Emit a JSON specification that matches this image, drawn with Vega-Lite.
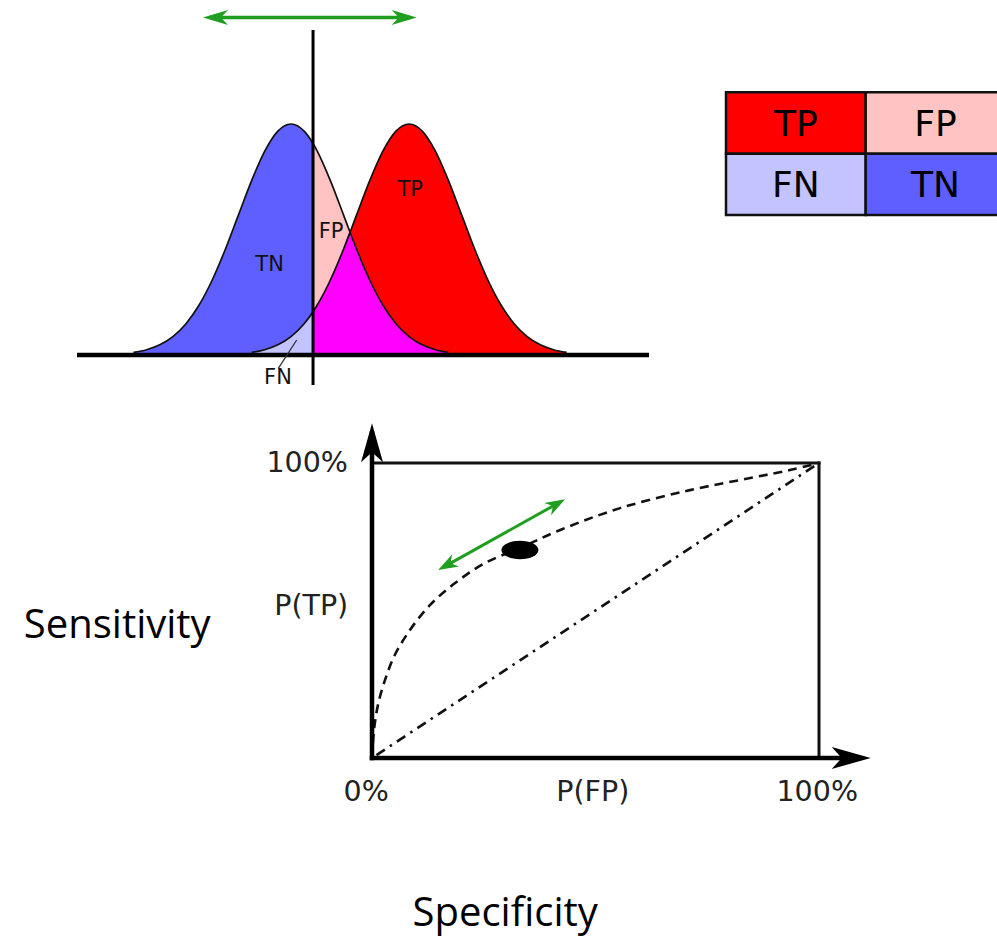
{
  "$schema": "https://vega.github.io/schema/vega-lite/v6.json",
  "width": 997,
  "height": 938,
  "autosize": {"type": "none"},
  "padding": 0,
  "background": "white",
  "config": {"view": {"stroke": null}, "axis": {"disable": true}, "legend": {"disable": true}},
  "datasets": {
    "curves": [
      {"x": -3, "neg": 0.0111, "pos": null, "both": null},
      {"x": -2.75, "neg": 0.0228, "pos": null, "both": null},
      {"x": -2.5, "neg": 0.0439, "pos": null, "both": null},
      {"x": -2.25, "neg": 0.0796, "pos": null, "both": null},
      {"x": -2, "neg": 0.1353, "pos": null, "both": null},
      {"x": -1.75, "neg": 0.2163, "pos": null, "both": null},
      {"x": -1.5, "neg": 0.3247, "pos": null, "both": null},
      {"x": -1.25, "neg": 0.4578, "pos": null, "both": null},
      {"x": -1, "neg": 0.6065, "pos": null, "both": null},
      {"x": -0.75, "neg": 0.7548, "pos": 0.0111, "both": null},
      {"x": -0.5, "neg": 0.8825, "pos": 0.0228, "both": null},
      {"x": -0.25, "neg": 0.9692, "pos": 0.0439, "both": null},
      {"x": 0, "neg": 1, "pos": 0.0796, "both": null},
      {"x": 0.25, "neg": 0.9692, "pos": 0.1353, "both": null},
      {"x": 0.42, "neg": 0.9156, "pos": 0.1874, "both": 0.1874},
      {"x": 0.5, "neg": 0.8825, "pos": 0.2163, "both": 0.2163},
      {"x": 0.75, "neg": 0.7548, "pos": 0.3247, "both": 0.3247},
      {"x": 1, "neg": 0.6065, "pos": 0.4578, "both": 0.4578},
      {"x": 1.125, "neg": 0.5311, "pos": 0.5311, "both": 0.5311},
      {"x": 1.25, "neg": 0.4578, "pos": 0.6065, "both": 0.4578},
      {"x": 1.5, "neg": 0.3247, "pos": 0.7548, "both": 0.3247},
      {"x": 1.75, "neg": 0.2163, "pos": 0.8825, "both": 0.2163},
      {"x": 2, "neg": 0.1353, "pos": 0.9692, "both": 0.1353},
      {"x": 2.25, "neg": 0.0796, "pos": 1, "both": 0.0796},
      {"x": 2.5, "neg": 0.0439, "pos": 0.9692, "both": 0.0439},
      {"x": 2.75, "neg": 0.0228, "pos": 0.8825, "both": 0.0228},
      {"x": 3, "neg": 0.0111, "pos": 0.7548, "both": 0.0111},
      {"x": 3.25, "neg": null, "pos": 0.6065, "both": null},
      {"x": 3.5, "neg": null, "pos": 0.4578, "both": null},
      {"x": 3.75, "neg": null, "pos": 0.3247, "both": null},
      {"x": 4, "neg": null, "pos": 0.2163, "both": null},
      {"x": 4.25, "neg": null, "pos": 0.1353, "both": null},
      {"x": 4.5, "neg": null, "pos": 0.0796, "both": null},
      {"x": 4.75, "neg": null, "pos": 0.0439, "both": null},
      {"x": 5, "neg": null, "pos": 0.0228, "both": null},
      {"x": 5.25, "neg": null, "pos": 0.0111, "both": null}
    ],
    "dist_segments": [
      {"seg": "baseline", "x1": -4.076, "y1": 0, "x2": 6.819, "y2": 0},
      {"seg": "threshold", "x1": 0.42, "y1": -0.13, "x2": 0.42, "y2": 1.407},
      {"seg": "leader", "x1": 0.109, "y1": 0.065, "x2": -0.242, "y2": -0.058},
      {"seg": "arrow", "x1": -1.55, "y1": 1.461, "x2": 2.27, "y2": 1.461}
    ],
    "dist_heads": [
      {"end": "left", "x": -1.676, "y": 1.461},
      {"end": "right", "x": 2.394, "y": 1.461}
    ],
    "dist_labels": [
      {"label": "TP", "x": 2.27, "y": 0.714},
      {"label": "FP", "x": 0.762, "y": 0.532},
      {"label": "TN", "x": -0.408, "y": 0.39},
      {"label": "FN", "x": -0.248, "y": -0.1}
    ],
    "table": [
      {"label": "TP", "c0": 0, "c1": 1, "r0": 0, "r1": 1, "cx": 0.5, "cy": 0.5},
      {"label": "FP", "c0": 1, "c1": 2, "r0": 0, "r1": 1, "cx": 1.5, "cy": 0.5},
      {"label": "FN", "c0": 0, "c1": 1, "r0": 1, "r1": 2, "cx": 0.5, "cy": 1.5},
      {"label": "TN", "c0": 1, "c1": 2, "r0": 1, "r1": 2, "cx": 1.5, "cy": 1.5}
    ],
    "roc_curve": [
      {"fpr": 0, "tpr": 0},
      {"fpr": 0.0045, "tpr": 0.095},
      {"fpr": 0.0134, "tpr": 0.18},
      {"fpr": 0.029, "tpr": 0.264},
      {"fpr": 0.051, "tpr": 0.349},
      {"fpr": 0.085, "tpr": 0.434},
      {"fpr": 0.13, "tpr": 0.519},
      {"fpr": 0.186, "tpr": 0.593},
      {"fpr": 0.253, "tpr": 0.661},
      {"fpr": 0.331, "tpr": 0.712},
      {"fpr": 0.421, "tpr": 0.773},
      {"fpr": 0.555, "tpr": 0.847},
      {"fpr": 0.711, "tpr": 0.908},
      {"fpr": 0.846, "tpr": 0.949},
      {"fpr": 0.935, "tpr": 0.976},
      {"fpr": 1, "tpr": 1}
    ],
    "roc_segments": [
      {"seg": "top", "fpr": 0, "tpr": 1, "fpr2": 1, "tpr2": 1},
      {"seg": "right", "fpr": 1, "tpr": 0, "fpr2": 1, "tpr2": 1},
      {"seg": "xaxis", "fpr": 0, "tpr": 0, "fpr2": 1.09, "tpr2": 0},
      {"seg": "yaxis", "fpr": 0, "tpr": 0, "fpr2": 0, "tpr2": 1.1},
      {"seg": "diagonal", "fpr": 0.01, "tpr": 0.01, "fpr2": 1, "tpr2": 1},
      {"seg": "green", "fpr": 0.16, "tpr": 0.647, "fpr2": 0.42, "tpr2": 0.867}
    ],
    "roc_axis_heads": [
      {"axis": "x", "fpr": 1.1157, "tpr": 0},
      {"axis": "y", "fpr": 0, "tpr": 1.1346}
    ],
    "roc_green_heads": [
      {"end": "upper", "fpr": 0.432, "tpr": 0.877},
      {"end": "lower", "fpr": 0.148, "tpr": 0.637}
    ],
    "roc_point": [{"fpr": 0.331, "tpr": 0.705}],
    "roc_labels": [
      {"label": "100%", "fpr": -0.145, "tpr": 1.0},
      {"label": "P(TP)", "fpr": -0.136, "tpr": 0.515},
      {"label": "0%", "fpr": -0.013, "tpr": -0.115},
      {"label": "P(FP)", "fpr": 0.494, "tpr": -0.115},
      {"label": "100%", "fpr": 0.996, "tpr": -0.115}
    ],
    "titles": [
      {"label": "Sensitivity", "fpr": -0.57, "tpr": 0.407},
      {"label": "Specificity", "fpr": 0.298, "tpr": -0.569}
    ]
  },
  "layer": [
    {
      "layer": [
        {
          "data": {"name": "curves"},
          "transform": [{"filter": "datum.x <= 0.42 && isValid(datum.neg)"}],
          "mark": {"type": "area", "color": "#5f5fff", "interpolate": "monotone"},
          "encoding": {
            "x": {"field": "x", "type": "quantitative", "scale": {"domain": [-4.076, 6.819], "range": [77, 649], "nice": false, "zero": false}, "axis": null},
            "y": {"field": "neg", "type": "quantitative", "scale": {"domain": [0, 1], "range": [355, 124], "nice": false}, "axis": null}
          }
        },
        {
          "data": {"name": "curves"},
          "transform": [{"filter": "datum.x >= 0.42 && isValid(datum.neg)"}],
          "mark": {"type": "area", "color": "#ffc3c3", "interpolate": "monotone"},
          "encoding": {
            "x": {"field": "x", "type": "quantitative", "scale": {"domain": [-4.076, 6.819], "range": [77, 649], "nice": false, "zero": false}, "axis": null},
            "y": {"field": "neg", "type": "quantitative", "scale": {"domain": [0, 1], "range": [355, 124], "nice": false}, "axis": null}
          }
        },
        {
          "data": {"name": "curves"},
          "transform": [{"filter": "datum.x >= 0.42 && isValid(datum.pos)"}],
          "mark": {"type": "area", "color": "#ff0000", "interpolate": "monotone"},
          "encoding": {
            "x": {"field": "x", "type": "quantitative", "scale": {"domain": [-4.076, 6.819], "range": [77, 649], "nice": false, "zero": false}, "axis": null},
            "y": {"field": "pos", "type": "quantitative", "scale": {"domain": [0, 1], "range": [355, 124], "nice": false}, "axis": null}
          }
        },
        {
          "data": {"name": "curves"},
          "transform": [{"filter": "isValid(datum.both)"}],
          "mark": {"type": "area", "color": "#ff00ff", "interpolate": "monotone"},
          "encoding": {
            "x": {"field": "x", "type": "quantitative", "scale": {"domain": [-4.076, 6.819], "range": [77, 649], "nice": false, "zero": false}, "axis": null},
            "y": {"field": "both", "type": "quantitative", "scale": {"domain": [0, 1], "range": [355, 124], "nice": false}, "axis": null}
          }
        },
        {
          "data": {"name": "curves"},
          "transform": [{"filter": "datum.x <= 0.42 && isValid(datum.pos)"}],
          "mark": {"type": "area", "color": "#c3c3ff", "interpolate": "monotone"},
          "encoding": {
            "x": {"field": "x", "type": "quantitative", "scale": {"domain": [-4.076, 6.819], "range": [77, 649], "nice": false, "zero": false}, "axis": null},
            "y": {"field": "pos", "type": "quantitative", "scale": {"domain": [0, 1], "range": [355, 124], "nice": false}, "axis": null}
          }
        },
        {
          "data": {"name": "curves"},
          "transform": [{"filter": "isValid(datum.neg)"}],
          "mark": {"type": "line", "color": "#111111", "strokeWidth": 1.7, "interpolate": "monotone"},
          "encoding": {
            "x": {"field": "x", "type": "quantitative", "scale": {"domain": [-4.076, 6.819], "range": [77, 649], "nice": false, "zero": false}, "axis": null},
            "y": {"field": "neg", "type": "quantitative", "scale": {"domain": [0, 1], "range": [355, 124], "nice": false}, "axis": null}
          }
        },
        {
          "data": {"name": "curves"},
          "transform": [{"filter": "isValid(datum.pos)"}],
          "mark": {"type": "line", "color": "#111111", "strokeWidth": 1.7, "interpolate": "monotone"},
          "encoding": {
            "x": {"field": "x", "type": "quantitative", "scale": {"domain": [-4.076, 6.819], "range": [77, 649], "nice": false, "zero": false}, "axis": null},
            "y": {"field": "pos", "type": "quantitative", "scale": {"domain": [0, 1], "range": [355, 124], "nice": false}, "axis": null}
          }
        },
        {
          "data": {"name": "dist_segments"},
          "transform": [{"filter": "datum.seg === 'baseline'"}],
          "mark": {"type": "rule", "color": "#000000", "strokeWidth": 4.5},
          "encoding": {
            "x": {"field": "x1", "type": "quantitative", "scale": {"domain": [-4.076, 6.819], "range": [77, 649], "nice": false, "zero": false}, "axis": null},
            "x2": {"field": "x2"},
            "y": {"field": "y1", "type": "quantitative", "scale": {"domain": [0, 1], "range": [355, 124], "nice": false}, "axis": null},
            "y2": {"field": "y2"}
          }
        },
        {
          "data": {"name": "dist_segments"},
          "transform": [{"filter": "datum.seg === 'threshold'"}],
          "mark": {"type": "rule", "color": "#000000", "strokeWidth": 3},
          "encoding": {
            "x": {"field": "x1", "type": "quantitative", "scale": {"domain": [-4.076, 6.819], "range": [77, 649], "nice": false, "zero": false}, "axis": null},
            "x2": {"field": "x2"},
            "y": {"field": "y1", "type": "quantitative", "scale": {"domain": [0, 1], "range": [355, 124], "nice": false}, "axis": null},
            "y2": {"field": "y2"}
          }
        },
        {
          "data": {"name": "dist_segments"},
          "transform": [{"filter": "datum.seg === 'leader'"}],
          "mark": {"type": "rule", "color": "#333333", "strokeWidth": 1.3},
          "encoding": {
            "x": {"field": "x1", "type": "quantitative", "scale": {"domain": [-4.076, 6.819], "range": [77, 649], "nice": false, "zero": false}, "axis": null},
            "x2": {"field": "x2"},
            "y": {"field": "y1", "type": "quantitative", "scale": {"domain": [0, 1], "range": [355, 124], "nice": false}, "axis": null},
            "y2": {"field": "y2"}
          }
        },
        {
          "data": {"name": "dist_segments"},
          "transform": [{"filter": "datum.seg === 'arrow'"}],
          "mark": {"type": "rule", "color": "#1f9e1f", "strokeWidth": 3.5},
          "encoding": {
            "x": {"field": "x1", "type": "quantitative", "scale": {"domain": [-4.076, 6.819], "range": [77, 649], "nice": false, "zero": false}, "axis": null},
            "x2": {"field": "x2"},
            "y": {"field": "y1", "type": "quantitative", "scale": {"domain": [0, 1], "range": [355, 124], "nice": false}, "axis": null},
            "y2": {"field": "y2"}
          }
        },
        {
          "data": {"name": "dist_heads"},
          "transform": [{"filter": "datum.end === 'right'"}],
          "mark": {"type": "point", "shape": "M 0 0 L -2.5 -0.75 L -1.8 0 L -2.5 0.75 Z", "size": 400, "filled": true, "color": "#1f9e1f", "opacity": 1, "strokeWidth": 0},
          "encoding": {
            "x": {"field": "x", "type": "quantitative", "scale": {"domain": [-4.076, 6.819], "range": [77, 649], "nice": false, "zero": false}, "axis": null},
            "y": {"field": "y", "type": "quantitative", "scale": {"domain": [0, 1], "range": [355, 124], "nice": false}, "axis": null}
          }
        },
        {
          "data": {"name": "dist_heads"},
          "transform": [{"filter": "datum.end === 'left'"}],
          "mark": {"type": "point", "shape": "M 0 0 L 2.5 -0.75 L 1.8 0 L 2.5 0.75 Z", "size": 400, "filled": true, "color": "#1f9e1f", "opacity": 1, "strokeWidth": 0},
          "encoding": {
            "x": {"field": "x", "type": "quantitative", "scale": {"domain": [-4.076, 6.819], "range": [77, 649], "nice": false, "zero": false}, "axis": null},
            "y": {"field": "y", "type": "quantitative", "scale": {"domain": [0, 1], "range": [355, 124], "nice": false}, "axis": null}
          }
        },
        {
          "data": {"name": "dist_labels"},
          "mark": {"type": "text", "font": "DejaVu Sans", "fontSize": 21, "color": "#111111", "align": "center", "baseline": "middle"},
          "encoding": {
            "x": {"field": "x", "type": "quantitative", "scale": {"domain": [-4.076, 6.819], "range": [77, 649], "nice": false, "zero": false}, "axis": null},
            "y": {"field": "y", "type": "quantitative", "scale": {"domain": [0, 1], "range": [355, 124], "nice": false}, "axis": null},
            "text": {"field": "label"}
          }
        }
      ]
    },
    {
      "layer": [
        {
          "data": {"name": "table"},
          "mark": {"type": "rect", "stroke": "#111111", "strokeWidth": 2.5},
          "encoding": {
            "x": {"field": "c0", "type": "quantitative", "scale": {"domain": [0, 2], "range": [726, 1005.4], "nice": false, "zero": false}, "axis": null},
            "x2": {"field": "c1"},
            "y": {"field": "r0", "type": "quantitative", "scale": {"domain": [0, 2], "range": [92.3, 215], "nice": false, "zero": false}, "axis": null},
            "y2": {"field": "r1"},
            "color": {"field": "label", "type": "nominal", "scale": {"domain": ["TP", "FP", "FN", "TN"], "range": ["#ff0000", "#ffc3c3", "#c3c3ff", "#5f5fff"]}, "legend": null}
          }
        },
        {
          "data": {"name": "table"},
          "mark": {"type": "text", "font": "DejaVu Sans", "fontSize": 36, "color": "#000000", "align": "center", "baseline": "middle", "dy": 2},
          "encoding": {
            "x": {"field": "cx", "type": "quantitative", "scale": {"domain": [0, 2], "range": [726, 1005.4], "nice": false, "zero": false}, "axis": null},
            "y": {"field": "cy", "type": "quantitative", "scale": {"domain": [0, 2], "range": [92.3, 215], "nice": false, "zero": false}, "axis": null},
            "text": {"field": "label"}
          }
        }
      ]
    },
    {
      "layer": [
        {
          "data": {"name": "roc_segments"},
          "transform": [{"filter": "datum.seg === 'diagonal'"}],
          "mark": {"type": "rule", "color": "#111111", "strokeWidth": 2.6, "strokeDash": [10, 6, 2.5, 6]},
          "encoding": {
            "x": {"field": "fpr", "type": "quantitative", "scale": {"domain": [0, 1], "range": [372, 819], "nice": false, "zero": false}, "axis": null},
            "x2": {"field": "fpr2"},
            "y": {"field": "tpr", "type": "quantitative", "scale": {"domain": [0, 1], "range": [758, 463], "nice": false, "zero": false}, "axis": null},
            "y2": {"field": "tpr2"}
          }
        },
        {
          "data": {"name": "roc_curve"},
          "mark": {"type": "line", "color": "#111111", "strokeWidth": 2.6, "strokeDash": [9, 6], "interpolate": "catmull-rom"},
          "encoding": {
            "x": {"field": "fpr", "type": "quantitative", "scale": {"domain": [0, 1], "range": [372, 819], "nice": false, "zero": false}, "axis": null},
            "y": {"field": "tpr", "type": "quantitative", "scale": {"domain": [0, 1], "range": [758, 463], "nice": false, "zero": false}, "axis": null}
          }
        },
        {
          "data": {"name": "roc_segments"},
          "transform": [{"filter": "datum.seg === 'top' || datum.seg === 'right'"}],
          "mark": {"type": "rule", "color": "#111111", "strokeWidth": 3, "strokeCap": "square"},
          "encoding": {
            "x": {"field": "fpr", "type": "quantitative", "scale": {"domain": [0, 1], "range": [372, 819], "nice": false, "zero": false}, "axis": null},
            "x2": {"field": "fpr2"},
            "y": {"field": "tpr", "type": "quantitative", "scale": {"domain": [0, 1], "range": [758, 463], "nice": false, "zero": false}, "axis": null},
            "y2": {"field": "tpr2"}
          }
        },
        {
          "data": {"name": "roc_segments"},
          "transform": [{"filter": "datum.seg === 'xaxis' || datum.seg === 'yaxis'"}],
          "mark": {"type": "rule", "color": "#000000", "strokeWidth": 4.5, "strokeCap": "square"},
          "encoding": {
            "x": {"field": "fpr", "type": "quantitative", "scale": {"domain": [0, 1], "range": [372, 819], "nice": false, "zero": false}, "axis": null},
            "x2": {"field": "fpr2"},
            "y": {"field": "tpr", "type": "quantitative", "scale": {"domain": [0, 1], "range": [758, 463], "nice": false, "zero": false}, "axis": null},
            "y2": {"field": "tpr2"}
          }
        },
        {
          "data": {"name": "roc_axis_heads"},
          "transform": [{"filter": "datum.axis === 'x'"}],
          "mark": {"type": "point", "shape": "M 0 0 L -3.9 -1.1 L -2.9 0 L -3.9 1.1 Z", "size": 400, "filled": true, "color": "#000000", "opacity": 1, "strokeWidth": 0},
          "encoding": {
            "x": {"field": "fpr", "type": "quantitative", "scale": {"domain": [0, 1], "range": [372, 819], "nice": false, "zero": false}, "axis": null},
            "y": {"field": "tpr", "type": "quantitative", "scale": {"domain": [0, 1], "range": [758, 463], "nice": false, "zero": false}, "axis": null}
          }
        },
        {
          "data": {"name": "roc_axis_heads"},
          "transform": [{"filter": "datum.axis === 'y'"}],
          "mark": {"type": "point", "shape": "M 0 0 L -3.9 -1.1 L -2.9 0 L -3.9 1.1 Z", "size": 400, "angle": 270, "filled": true, "color": "#000000", "opacity": 1, "strokeWidth": 0},
          "encoding": {
            "x": {"field": "fpr", "type": "quantitative", "scale": {"domain": [0, 1], "range": [372, 819], "nice": false, "zero": false}, "axis": null},
            "y": {"field": "tpr", "type": "quantitative", "scale": {"domain": [0, 1], "range": [758, 463], "nice": false, "zero": false}, "axis": null}
          }
        },
        {
          "data": {"name": "roc_point"},
          "mark": {"type": "point", "shape": "M -1 0 A 1 0.5 0 1 0 1 0 A 1 0.5 0 1 0 -1 0 Z", "size": 1369, "filled": true, "color": "#000000", "opacity": 1, "strokeWidth": 0},
          "encoding": {
            "x": {"field": "fpr", "type": "quantitative", "scale": {"domain": [0, 1], "range": [372, 819], "nice": false, "zero": false}, "axis": null},
            "y": {"field": "tpr", "type": "quantitative", "scale": {"domain": [0, 1], "range": [758, 463], "nice": false, "zero": false}, "axis": null}
          }
        },
        {
          "data": {"name": "roc_segments"},
          "transform": [{"filter": "datum.seg === 'green'"}],
          "mark": {"type": "rule", "color": "#1f9e1f", "strokeWidth": 3},
          "encoding": {
            "x": {"field": "fpr", "type": "quantitative", "scale": {"domain": [0, 1], "range": [372, 819], "nice": false, "zero": false}, "axis": null},
            "x2": {"field": "fpr2"},
            "y": {"field": "tpr", "type": "quantitative", "scale": {"domain": [0, 1], "range": [758, 463], "nice": false, "zero": false}, "axis": null},
            "y2": {"field": "tpr2"}
          }
        },
        {
          "data": {"name": "roc_green_heads"},
          "transform": [{"filter": "datum.end === 'upper'"}],
          "mark": {"type": "point", "shape": "M 0 0 L -2 -0.7 L -1.4 0 L -2 0.7 Z", "size": 400, "angle": 330.8, "filled": true, "color": "#1f9e1f", "opacity": 1, "strokeWidth": 0},
          "encoding": {
            "x": {"field": "fpr", "type": "quantitative", "scale": {"domain": [0, 1], "range": [372, 819], "nice": false, "zero": false}, "axis": null},
            "y": {"field": "tpr", "type": "quantitative", "scale": {"domain": [0, 1], "range": [758, 463], "nice": false, "zero": false}, "axis": null}
          }
        },
        {
          "data": {"name": "roc_green_heads"},
          "transform": [{"filter": "datum.end === 'lower'"}],
          "mark": {"type": "point", "shape": "M 0 0 L -2 -0.7 L -1.4 0 L -2 0.7 Z", "size": 400, "angle": 150.8, "filled": true, "color": "#1f9e1f", "opacity": 1, "strokeWidth": 0},
          "encoding": {
            "x": {"field": "fpr", "type": "quantitative", "scale": {"domain": [0, 1], "range": [372, 819], "nice": false, "zero": false}, "axis": null},
            "y": {"field": "tpr", "type": "quantitative", "scale": {"domain": [0, 1], "range": [758, 463], "nice": false, "zero": false}, "axis": null}
          }
        },
        {
          "data": {"name": "roc_labels"},
          "mark": {"type": "text", "font": "DejaVu Sans", "fontSize": 28.5, "color": "#222222", "align": "center", "baseline": "middle"},
          "encoding": {
            "x": {"field": "fpr", "type": "quantitative", "scale": {"domain": [0, 1], "range": [372, 819], "nice": false, "zero": false}, "axis": null},
            "y": {"field": "tpr", "type": "quantitative", "scale": {"domain": [0, 1], "range": [758, 463], "nice": false, "zero": false}, "axis": null},
            "text": {"field": "label"}
          }
        },
        {
          "data": {"name": "titles"},
          "mark": {"type": "text", "font": "Open Sans", "fontSize": 40, "color": "#000000", "align": "center", "baseline": "alphabetic"},
          "encoding": {
            "x": {"field": "fpr", "type": "quantitative", "scale": {"domain": [0, 1], "range": [372, 819], "nice": false, "zero": false}, "axis": null},
            "y": {"field": "tpr", "type": "quantitative", "scale": {"domain": [0, 1], "range": [758, 463], "nice": false, "zero": false}, "axis": null},
            "text": {"field": "label"}
          }
        }
      ]
    }
  ],
  "resolve": {"scale": {"x": "independent", "y": "independent"}}
}
